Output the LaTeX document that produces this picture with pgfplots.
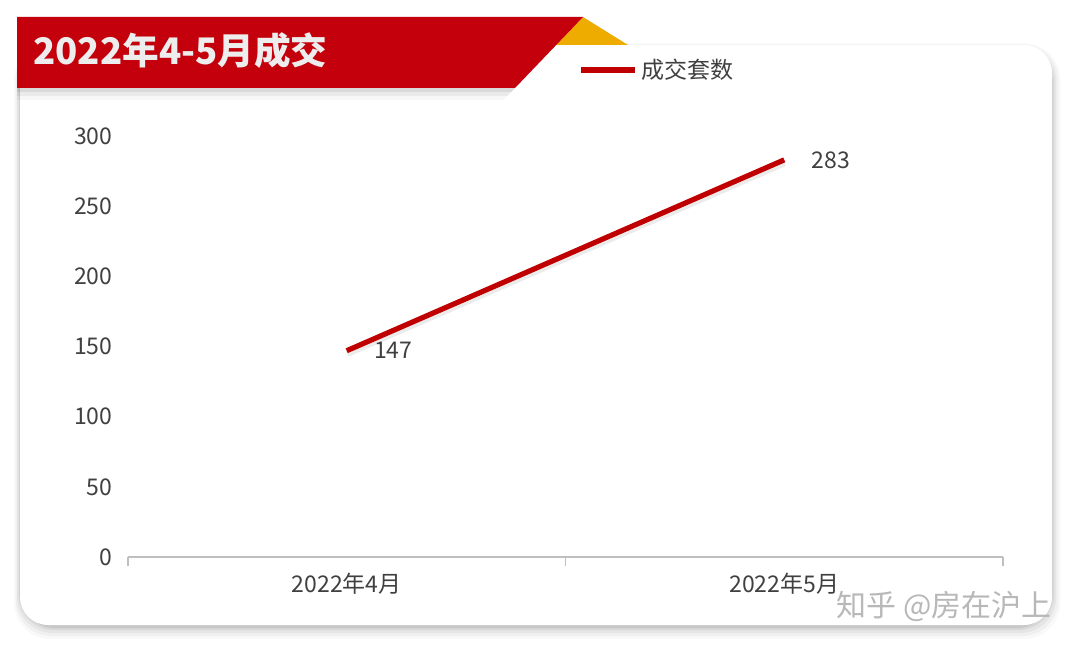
\documentclass[border=0pt]{standalone}
\usepackage{fontspec}
\setmainfont{Noto Sans CJK SC}
\usepackage{pgfplots}
\pgfplotsset{compat=1.18}
\definecolor{chartred}{RGB}{192,0,0}
\definecolor{bannerred}{RGB}{195,0,11}
\definecolor{gold}{RGB}{238,172,0}
\definecolor{axisgray}{RGB}{191,191,191}
\definecolor{txt}{RGB}{64,64,64}

\begin{document}
\begin{tikzpicture}
\begin{scope}[x=0.5pt,y=-0.5pt]
  \useasboundingbox (0,0) rectangle (1080,652);
  \fill[white] (0,0) rectangle (1080,652);
  % soft card shadow
  \foreach \d/\o in {12/0.025,9/0.035,6/0.045,3/0.06,1/0.07}{
    \fill[black,opacity=\o,rounded corners=18] (20-\d*0.5,47-\d*0.3) rectangle (1052+\d*0.7,627+\d);
  }
  \fill[white,rounded corners=14] (20,45) rectangle (1052,625);
  % folded corner
  \fill[gold] (583,17) -- (628,45) -- (556,45) -- cycle;
  % banner shadow
  \foreach \d/\o in {12/0.03,8/0.05,4/0.07}{
    \fill[black,opacity=\o] (17,88) -- (515,88) -- (515-\d,88+\d) -- (17,88+\d) -- cycle;
  }
  \fill[bannerred] (17,17) -- (583,17) -- (515,88) -- (17,88) -- cycle;
  \node[anchor=west, inner sep=0pt, text=white!93!black,
        font=\bfseries\fontsize{18.3}{22}\selectfont] at (33,51) {2022年4-5月成交};
\end{scope}

\begin{axis}[
  at={(64pt,-278.5pt)}, anchor=south west,
  scale only axis, width=437.5pt, height=210.5pt,
  xmin=-0.5, xmax=1.5, ymin=0, ymax=300,
  axis x line*=bottom, axis y line*=left,
  y axis line style={draw=none},
  x axis line style={axisgray, line width=0.8pt, -},
  ytick={0,50,...,300},
  ytick style={draw=none},
  xtick={0,1}, xticklabels={2022年4月,2022年5月},
  major x tick style={draw=none},
  minor xtick={-0.5,0.5,1.5},
  minor x tick style={axisgray, line width=0.8pt},
  minor tick length=4.5pt,
  tick align=outside,
  every tick label/.append style={font=\fontsize{11.5}{13}\selectfont, text=txt},
  /pgf/number format/assume math mode=true,
  clip=false,
  legend style={at={(0.5143,1.1568)}, anchor=west, draw=none, fill=none,
    inner sep=0pt, font=\fontsize{11.5}{13}\selectfont, text=txt},
  legend image code/.code={\draw[#1] (0pt,0pt) -- (27pt,0pt);},
]
\addplot[black, opacity=0.08, line width=4pt, forget plot, yshift=-1.2pt]
  coordinates {(0,147) (1,283)};
\addplot[chartred, line width=2.6pt,
  nodes near coords,
  every node near coord/.append style={anchor=west, xshift=9pt,
    font=\fontsize{11.5}{13}\selectfont, text=txt}]
  coordinates {(0,147) (1,283)};
\addlegendentry{成交套数}
\end{axis}

\begin{scope}[x=0.5pt,y=-0.5pt]
  \node[anchor=east, inner sep=0pt, text=black!28,
        font=\fontsize{15}{18}\selectfont] at (1052,606) {知乎 @房在沪上};
\end{scope}
\end{tikzpicture}
\end{document}
